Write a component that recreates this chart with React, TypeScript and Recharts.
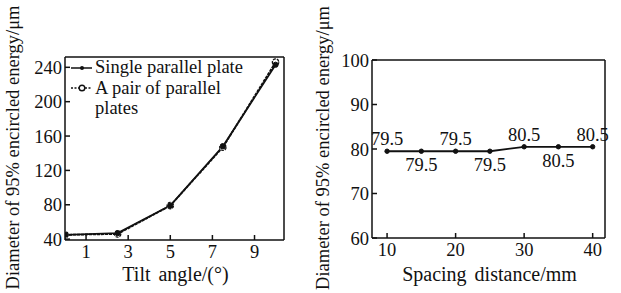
import React from 'react';
import { LineChart, Line, XAxis, YAxis, Legend, LabelList, Label } from 'recharts';

// ---- Data: left chart (tilt angle) ----
const tiltAngles = [0, 2.5, 5, 7.5, 10];
const singlePlate = [45, 47, 79, 148, 243];
const pairPlates = [45, 46, 79, 147, 246];
const tiltTicks = [1, 3, 5, 7, 9];
const tiltDiamTicks = [40, 80, 120, 160, 200, 240];
const legendLines = ['Single parallel plate', 'A pair of parallel', 'plates'];

// ---- Data: right chart (spacing distance) ----
const spacings = [10, 15, 20, 25, 30, 35, 40];
const spacingDiam = [79.5, 79.5, 79.5, 79.5, 80.5, 80.5, 80.5];
const spacingTicks = [10, 20, 30, 40];
const spacingDiamTicks = [60, 70, 80, 90, 100];

const yTitle = 'Diameter of 95% encircled energy/\u03bcm';
const tiltTitle = 'Tilt angle/(\u00b0)';
const spacingTitle = 'Spacing distance/mm';

const tiltData = tiltAngles.map((x, i) => ({ x, single: singlePlate[i], pair: pairPlates[i] }));
const spacingData = spacings.map((x, i) => ({ x, v: spacingDiam[i] }));

const FONT = '"Liberation Serif", "Times New Roman", Times, serif';
const INK = '#111';
const fontCss = { fontFamily: FONT };
const tickStyle = { fill: INK, fontSize: 18.5, fontFamily: FONT, style: fontCss };
const axisStroke = { stroke: INK, strokeWidth: 1.5 };

const renderYTitle = (props: any) => {
  const vb = props.viewBox || {};
  const cx = 13;
  const cy = vb.y + vb.height / 2 - 1;
  return (
    <text
      x={cx}
      y={cy}
      transform={`rotate(-90, ${cx}, ${cy})`}
      textAnchor="middle"
      dominantBaseline="central"
      fill={INK}
      fontSize={18.5}
      fontFamily={FONT}
      style={fontCss}
    >
      {yTitle}
    </text>
  );
};

const makeXTitle = (text: string) => (props: any) => {
  const vb = props.viewBox || {};
  return (
    <text
      x={vb.x + vb.width / 2 + 1}
      y={281}
      textAnchor="middle"
      fill={INK}
      fontSize={20}
      fontFamily={FONT}
      style={{ ...fontCss, wordSpacing: 3 }}
    >
      {text}
    </text>
  );
};

const renderTiltLegend = () => (
  <svg width={200} height={64} style={{ display: 'block', overflow: 'visible' }}>
    <line x1={1} x2={22} y1={11} y2={11} stroke={INK} strokeWidth={1.5} />
    <circle cx={12} cy={11} r={2} fill={INK} />
    <text x={25} y={16} fill={INK} fontSize={18.5} fontFamily={FONT} style={fontCss}>{legendLines[0]}</text>
    <line x1={1} x2={22} y1={31} y2={31} stroke={INK} strokeWidth={1.5} strokeDasharray="2 1.5" />
    <circle cx={12} cy={31} r={2.8} fill="#fff" stroke={INK} strokeWidth={1.4} />
    <text x={25} y={37} fill={INK} fontSize={18.5} fontFamily={FONT} style={fontCss}>{legendLines[1]}</text>
    <text x={25} y={57} fill={INK} fontSize={18.5} fontFamily={FONT} style={fontCss}>{legendLines[2]}</text>
  </svg>
);

const renderSpacingLabel = (props: any) => {
  const { x, y, value, index } = props;
  const above = index % 2 === 0;
  return (
    <text
      x={x}
      y={above ? y - 6 : y + 20}
      textAnchor="middle"
      fill={INK}
      fontSize={18.5}
      fontFamily={FONT}
      style={fontCss}
    >
      {value}
    </text>
  );
};

function TiltChart() {
  return (
    <LineChart
      width={300}
      height={293}
      data={tiltData}
      margin={{ top: 56, right: 15, left: 0, bottom: 0 }}
    >
      <XAxis
        dataKey="x"
        type="number"
        domain={[0, 10.4]}
        ticks={tiltTicks}
        allowDataOverflow
        height={53}
        tick={tickStyle}
        tickSize={-5}
        tickMargin={10}
        axisLine={axisStroke}
        tickLine={axisStroke}
      >
        <Label content={makeXTitle(tiltTitle)} />
      </XAxis>
      <XAxis
        xAxisId="top"
        orientation="top"
        dataKey="x"
        type="number"
        domain={[0, 10.4]}
        height={1}
        tick={false}
        tickLine={false}
        axisLine={axisStroke}
      />
      <YAxis
        type="number"
        domain={[39, 252]}
        ticks={tiltDiamTicks}
        allowDataOverflow
        width={65}
        tick={tickStyle}
        tickSize={-5}
        tickMargin={8}
        axisLine={axisStroke}
        tickLine={axisStroke}
      >
        <Label content={renderYTitle} />
      </YAxis>
      <YAxis
        yAxisId="right"
        orientation="right"
        type="number"
        domain={[39, 252]}
        width={1}
        tick={false}
        tickLine={false}
        axisLine={axisStroke}
      />
      <Legend
        layout="vertical"
        align="center"
        verticalAlign="middle"
        content={renderTiltLegend}
        wrapperStyle={{ left: 70, top: 57, width: 200, height: 64 }}
      />
      <Line
        name="A pair of parallel plates"
        dataKey="pair"
        stroke={INK}
        strokeWidth={1.8}
        strokeDasharray="3 1"
        dot={{ r: 3.2, fill: '#fff', stroke: INK, strokeWidth: 1.3 }}
        isAnimationActive={false}
      />
      <Line
        name="Single parallel plate"
        dataKey="single"
        stroke={INK}
        strokeWidth={1.8}
        dot={{ r: 2.6, fill: INK, stroke: INK, strokeWidth: 1 }}
        isAnimationActive={false}
      />
    </LineChart>
  );
}

function SpacingChart() {
  return (
    <LineChart
      width={311}
      height={293}
      data={spacingData}
      margin={{ top: 59, right: 15, left: 0, bottom: 0 }}
    >
      <XAxis
        dataKey="x"
        type="number"
        domain={[7.8, 41.8]}
        ticks={spacingTicks}
        allowDataOverflow
        height={55}
        tick={tickStyle}
        tickSize={-5}
        tickMargin={10}
        axisLine={axisStroke}
        tickLine={axisStroke}
      >
        <Label content={makeXTitle(spacingTitle)} />
      </XAxis>
      <XAxis
        xAxisId="top"
        orientation="top"
        dataKey="x"
        type="number"
        domain={[7.8, 41.8]}
        height={1}
        tick={false}
        tickLine={false}
        axisLine={axisStroke}
      />
      <YAxis
        type="number"
        domain={[60, 100]}
        ticks={spacingDiamTicks}
        allowDataOverflow
        width={62}
        tick={tickStyle}
        tickSize={-5}
        tickMargin={8}
        axisLine={axisStroke}
        tickLine={axisStroke}
      >
        <Label content={renderYTitle} />
      </YAxis>
      <YAxis
        yAxisId="right"
        orientation="right"
        type="number"
        domain={[60, 100]}
        width={1}
        tick={false}
        tickLine={false}
        axisLine={axisStroke}
      />
      <Line
        dataKey="v"
        stroke={INK}
        strokeWidth={1.8}
        dot={{ r: 2.2, fill: INK, stroke: INK, strokeWidth: 1 }}
        isAnimationActive={false}
      >
        <LabelList dataKey="v" content={renderSpacingLabel} />
      </Line>
    </LineChart>
  );
}

export default function App() {
  return (
    <div style={{ position: 'absolute', left: 0, top: 0, width: 621, height: 293, background: '#fff', fontFamily: FONT }}>
      <div style={{ position: 'absolute', left: 0, top: 0 }}>
        <TiltChart />
      </div>
      <div style={{ position: 'absolute', left: 310, top: 0 }}>
        <SpacingChart />
      </div>
    </div>
  );
}
